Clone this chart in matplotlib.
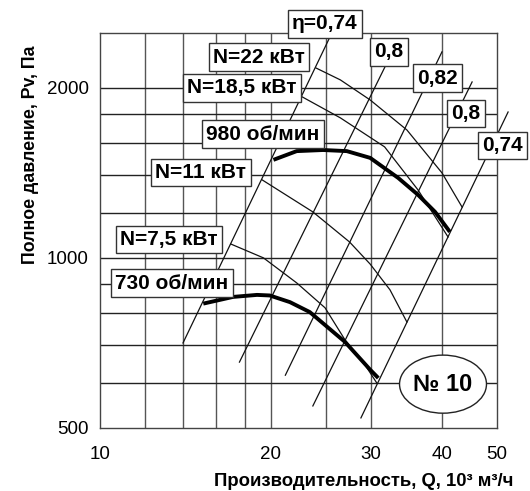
import matplotlib
matplotlib.use('Agg')
import matplotlib.pyplot as plt
from matplotlib.patches import Ellipse
from matplotlib.ticker import FixedLocator, FixedFormatter, NullLocator

plt.rcParams['font.family'] = ['Liberation Sans', 'DejaVu Sans']

# ---------------------------------------------------------------------------
# DATA: Q in 10^3 m3/h, Pv in Pa
# ---------------------------------------------------------------------------

# fan curves
q_980 = [20.2, 22.2, 24.7, 27.2, 29.9, 33.5, 36.3, 38.9, 41.3]
p_980 = [1491, 1545, 1552, 1545, 1503, 1385, 1293, 1206, 1112]
q_730 = [15.2, 17.15, 18.9, 19.9, 21.6, 23.4, 27.0, 29.9, 30.9]
p_730 = [830, 853, 860, 858, 835, 802, 710, 634, 613]

# efficiency lines (start, end)
eta_labels = ['η=0,74', '0,8', '0,82', '0,8', '0,74']
eta_q = [(14.0, 25.4), (17.6, 32.0), (21.2, 40.0), (23.7, 45.2), (28.8, 52.3)]
eta_p = [(707, 2460), (654, 2213), (620, 2315), (547, 2048), (521, 1812)]

# power lines
n_labels = ['N=22 кВт', 'N=18,5 кВт', 'N=11 кВт', 'N=7,5 кВт']
n_q = [[24.0, 26.5, 29.9, 34.7, 40.0, 43.4],
       [22.7, 26.5, 31.7, 36.3, 41.0],
       [19.3, 23.7, 27.5, 29.9, 32.4, 34.7],
       [17.0, 19.4, 22.2, 24.9, 27.0, 29.3, 30.7]]
n_p = [[2168, 2065, 1903, 1684, 1414, 1230],
       [1927, 1769, 1572, 1319, 1089],
       [1374, 1206, 1067, 975, 878, 770],
       [1058, 1000, 903, 816, 716, 646, 601]]

x_grid = [12, 14, 16, 18, 20, 25, 30, 40]
y_grid = [600, 700, 800, 900, 1000, 1200, 1400, 1600, 1800, 2000]
x_ticks = [10, 20, 30, 40, 50]
y_ticks = [500, 1000, 2000]

# label box positions (axes fraction)
eta_pos = [(0.567, 1.023), (0.728, 0.952), (0.849, 0.886), (0.922, 0.797), (1.013, 0.716)]
n_pos = [(0.401, 0.939), (0.358, 0.861), (0.254, 0.646), (0.174, 0.478)]
rpm_labels = ['980 об/мин', '730 об/мин']
rpm_pos = [(0.411, 0.744), (0.181, 0.367)]

# ---------------------------------------------------------------------------
# PLOT
# ---------------------------------------------------------------------------

fig = plt.figure(figsize=(5.30, 4.91), dpi=100)
ax = fig.add_axes([100/530, 1-428/491, 397/530, 395/491])
ax.set_xscale('log'); ax.set_yscale('log')
ax.set_xlim(10, 50); ax.set_ylim(500, 2500)

for xg in x_grid:
    ax.axvline(xg, color='#555555', lw=1.0, zorder=1)
for yg in y_grid:
    ax.axhline(yg, color='#222222', lw=1.0, zorder=1)

for s in ax.spines.values():
    s.set_color('#444444'); s.set_linewidth(1.0)

ax.xaxis.set_major_locator(FixedLocator(x_ticks))
ax.xaxis.set_major_formatter(FixedFormatter([str(v) for v in x_ticks]))
ax.xaxis.set_minor_locator(NullLocator())
ax.yaxis.set_major_locator(FixedLocator(y_ticks))
ax.yaxis.set_major_formatter(FixedFormatter([str(v) for v in y_ticks]))
ax.yaxis.set_minor_locator(NullLocator())
ax.tick_params(axis='x', length=0, labelsize=13.5, pad=13)
ax.tick_params(axis='y', length=0, labelsize=13.5, pad=8)

# efficiency lines
for q, p in zip(eta_q, eta_p):
    ax.plot(q, p, color='#111111', lw=0.9, zorder=3, clip_on=False)

# power lines
for q, p in zip(n_q, n_p):
    ax.plot(q, p, color='#111111', lw=0.9, zorder=3)

# fan curves
ax.plot(q_980, p_980, color='black', lw=2.8, zorder=4, solid_capstyle='butt')
ax.plot(q_730, p_730, color='black', lw=2.8, zorder=4, solid_capstyle='butt')

box = dict(boxstyle='square,pad=0.2', fc='white', ec='#333333', lw=1.0)
for lab, (x, y) in zip(eta_labels + n_labels + rpm_labels, eta_pos + n_pos + rpm_pos):
    ax.text(x, y, lab, transform=ax.transAxes, ha='center', va='center',
            fontsize=15, fontweight='bold', bbox=box, zorder=10, clip_on=False)

ell = Ellipse((0.864, 0.111), 0.219, 0.147, transform=ax.transAxes,
              fc='white', ec='#222222', lw=1.0, zorder=9)
ax.add_patch(ell)
ax.text(0.864, 0.111, '№ 10', transform=ax.transAxes, ha='center', va='center',
        fontsize=17, fontweight='bold', zorder=10)

fig.text(31/530, 1-155/491, 'Полное давление, Pv, Па', rotation=90,
         ha='center', va='center', fontsize=12.8, fontweight='bold')
fig.text(364/530, 1-481/491, 'Производительность, Q, 10³ м³/ч',
         ha='center', va='center', fontsize=13.3, fontweight='bold')

plt.savefig('out.png', dpi=100)
